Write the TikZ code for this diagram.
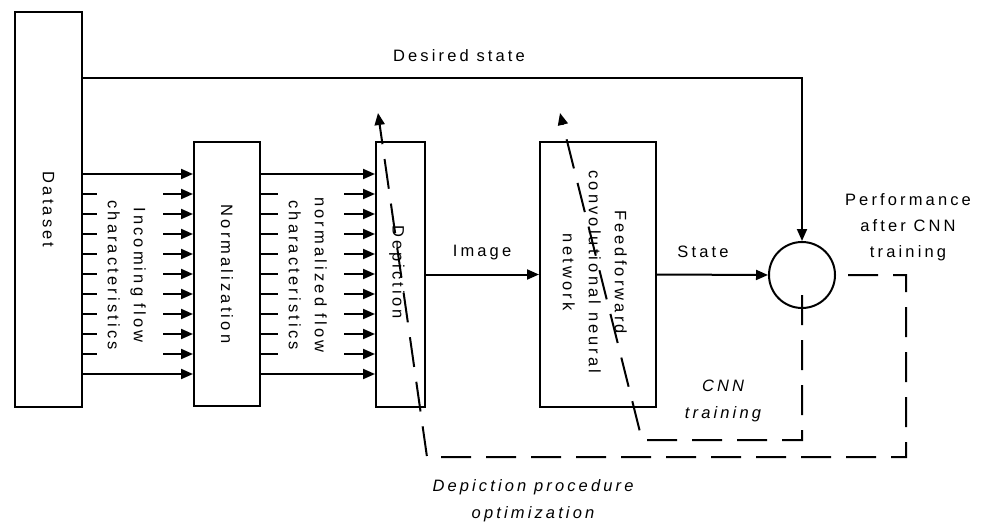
\documentclass[tikz,border=0pt]{standalone}
\usepackage{fontspec}
\setmainfont{Liberation Sans}[LetterSpace=19]
\usetikzlibrary{arrows.meta,calc}
\begin{document}
\begin{tikzpicture}[x=1pt,y=-1pt,
  line width=2pt,
  every node/.style={font=\fontsize{16.5}{26}\selectfont, inner sep=0pt},
  blk/.style={draw, fill=white, line width=2pt},
  lbl/.style={align=center},
  arr/.style={-{Triangle[length=12pt,width=10pt]}},
  dsh/.style={dash pattern=on 30pt off 15pt, line width=2pt},
]
\useasboundingbox (0,0) rectangle (984,524);

% boxes
\node[blk, minimum width=67pt, minimum height=395pt] (ds) at (48.5,209.5) {\rotatebox{-90}{Dataset}};
\node[blk, minimum width=66pt, minimum height=264pt] (nrm) at (227,274) {\rotatebox{-90}{Normalization}};
\node[blk, minimum width=49pt, minimum height=265pt] (dep) at (400.5,274.5) {};
\node[blk, minimum width=116pt, minimum height=265pt] (cnn) at (598,274.5) {};
\node[draw, circle, minimum size=66pt, line width=2pt] (sum) at (802,275) {};

\node (deptxt) at (397,272) {\rotatebox{-90}{Depiction}};
\node (cnntxt) at (594,272) {\rotatebox{-90}{\begin{tabular}{@{}c@{}}Feedforward\\convolutional neural\\network\end{tabular}}};

% flow labels
\node (inc) at (126,275) {\rotatebox{-90}{\begin{tabular}{@{}c@{}}Incoming flow\\characteristics\end{tabular}}};
\node (nfl) at (307,275) {\rotatebox{-90}{\begin{tabular}{@{}c@{}}normalized flow\\characteristics\end{tabular}}};

% flow arrows
\foreach \k in {0,...,10} {
  \coordinate (r\k) at (0,{174+20*\k});
}
\foreach \k in {0,10} {
  \draw[arr] (ds.east |- r\k) -- (nrm.west |- r\k);
  \draw[arr] (nrm.east |- r\k) -- (dep.west |- r\k);
}
\foreach \k in {1,...,9} {
  \coordinate (a\k) at (97,{174+20*\k});
  \coordinate (b\k) at (163,{174+20*\k});
  \coordinate (c\k) at (278,{174+20*\k});
  \coordinate (d\k) at (344,{174+20*\k});
  \draw (ds.east |- r\k) -- (a\k);
  \draw[arr] (b\k) -- (nrm.west |- r\k);
  \draw (nrm.east |- r\k) -- (c\k);
  \draw[arr] (d\k) -- (dep.west |- r\k);
}

% desired state
\coordinate (dsy) at (0,78);
\draw[arr] (ds.east |- dsy) -- (sum.north |- dsy) -- (sum.north);
\node (dlab) at (459,56) {Desired state};

% image, state
\draw[arr] (dep.east) -- (cnn.west);
\node (imlab) at (482,253) {Image};
\draw[arr] (cnn.east) -- (sum.west);
\node (stlab) at (703,252) {State};

\node[lbl] (perf) at (908,227) {Performance\\after CNN\\training};

% dashed feedback loops
\coordinate (i1) at (802,440);
\coordinate (i2) at (642,440);
\coordinate (i3) at (560,113);
\coordinate (o1) at (906,275);
\coordinate (o2) at (906,457);
\coordinate (o3) at (427,457);
\coordinate (o4) at (378,113);
\draw[dsh, arr] ([yshift=14pt]sum.south) -- (i1) -- (i2) -- (i3);
\draw[dsh, arr] ([xshift=12pt]sum.east) -- (o1) -- (o2) -- (o3) -- (o4);

\node[lbl, font=\fontsize{16.5}{27}\selectfont\itshape] (cnnt) at (723,401) {CNN\\training};
\node[lbl, font=\fontsize{16.5}{27}\selectfont\itshape] (dpo) at (533,501) {Depiction procedure\\optimization};
\end{tikzpicture}
\end{document}
